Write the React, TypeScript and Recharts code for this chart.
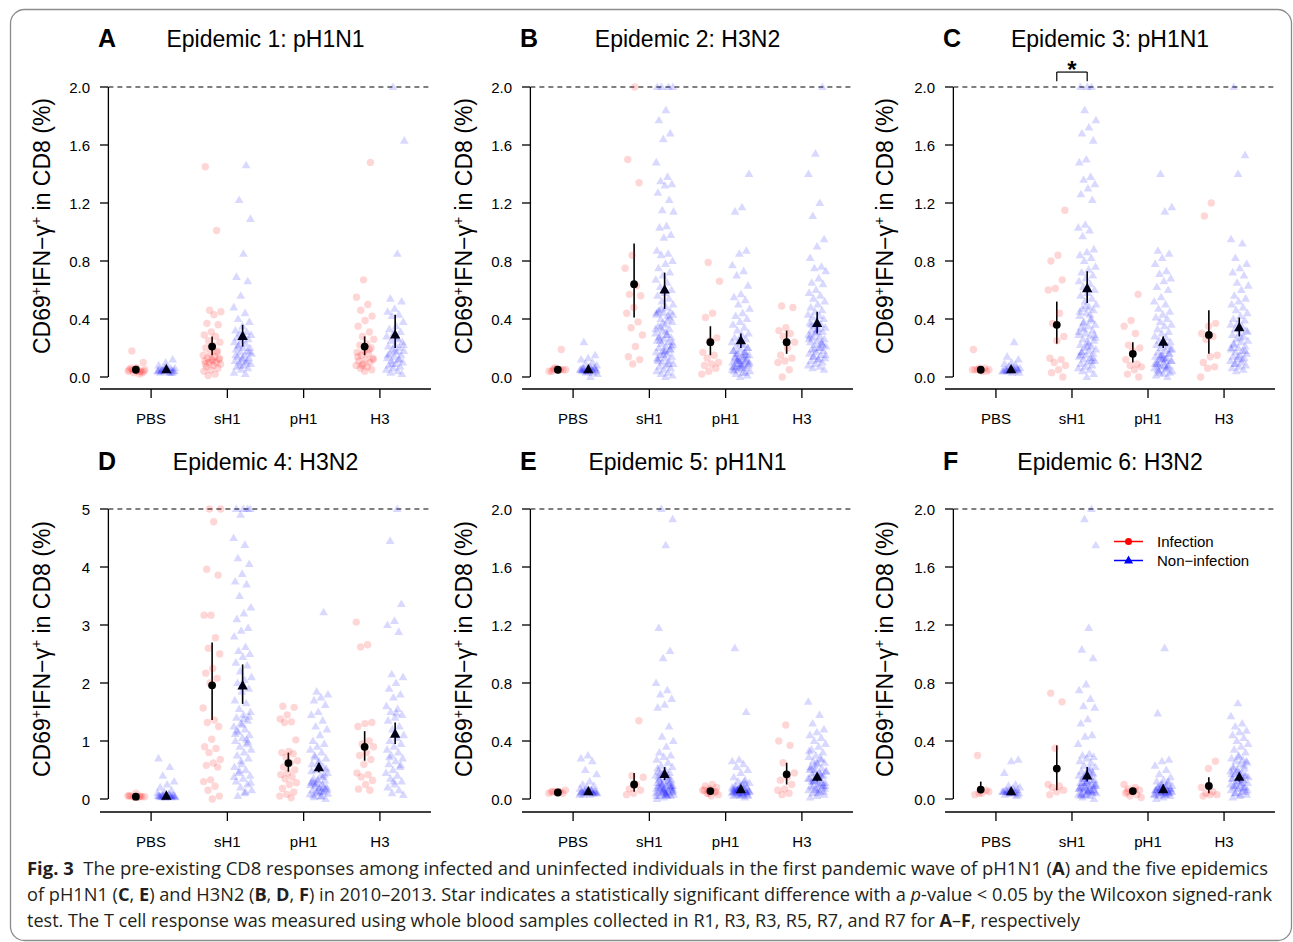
import React from "react";
import {
  ScatterChart,
  Scatter,
  XAxis,
  YAxis,
  ReferenceLine,
  ReferenceDot,
  ErrorBar,
  Legend,
} from "recharts";

const FONT = '"Liberation Sans", Arial, Helvetica, sans-serif';

const categories = ["PBS", "sH1", "pH1", "H3"];
const ticks2 = [0, 0.4, 0.8, 1.2, 1.6, 2.0];
const ticks2Labels = ["0.0", "0.4", "0.8", "1.2", "1.6", "2.0"];
const ticks5 = [0, 1, 2, 3, 4, 5];
const ticks5Labels = ["0", "1", "2", "3", "4", "5"];

// values per stimulus: PBS, sH1, pH1, H3
const epi1Inf: number[][] = [
  [0.18, 0.1, 0.06, 0.05, 0.04, 0.03, 0.05, 0.04, 0.06, 0.03, 0.05, 0.04, 0.02, 0.05, 0.04, 0.06],
  [1.45, 1.01, 0.46, 0.45, 0.43, 0.37, 0.36, 0.31, 0.29, 0.28, 0.25, 0.24, 0.22, 0.2, 0.18, 0.16, 0.15, 0.14, 0.13, 0.12, 0.12, 0.11, 0.1, 0.1, 0.09, 0.08, 0.07, 0.06, 0.05, 0.04, 0.02, 0.01, 0.13, 0.11, 0.09, 0.17],
  [],
  [1.48, 0.67, 0.55, 0.5, 0.46, 0.42, 0.39, 0.35, 0.31, 0.28, 0.26, 0.23, 0.22, 0.2, 0.18, 0.17, 0.16, 0.15, 0.13, 0.12, 0.11, 0.1, 0.09, 0.08, 0.07, 0.06, 0.05, 0.04, 0.14, 0.19, 0.08, 0.12],
];
const epi1Non: number[][] = [
  [0.12, 0.1, 0.08, 0.06, 0.05, 0.04, 0.04, 0.03, 0.05, 0.06, 0.04, 0.03, 0.05, 0.04, 0.07, 0.05, 0.03, 0.04, 0.06, 0.05, 0.04, 0.03, 0.05, 0.04],
  [1.46, 1.22, 1.09, 0.85, 0.69, 0.66, 0.56, 0.48, 0.44, 0.4, 0.38, 0.35, 0.32, 0.31, 0.3, 0.29, 0.28, 0.27, 0.26, 0.25, 0.24, 0.23, 0.22, 0.2, 0.2, 0.19, 0.18, 0.17, 0.16, 0.15, 0.14, 0.13, 0.12, 0.11, 0.1, 0.1, 0.09, 0.08, 0.07, 0.06, 0.05, 0.03, 0.02, 0.21, 0.17, 0.13, 0.15, 0.11, 0.08],
  [],
  [2.0, 1.63, 0.85, 0.54, 0.52, 0.47, 0.45, 0.43, 0.42, 0.38, 0.35, 0.33, 0.31, 0.3, 0.28, 0.26, 0.25, 0.24, 0.22, 0.21, 0.2, 0.19, 0.18, 0.17, 0.16, 0.15, 0.14, 0.13, 0.12, 0.11, 0.1, 0.09, 0.08, 0.07, 0.06, 0.05, 0.04, 0.03, 0.02, 0.18, 0.15, 0.12, 0.09, 0.22, 0.27],
];
// [mean, lower, upper]
const epi1InfCI = [[0.05, 0.045, 0.055], [0.21, 0.15, 0.28], null, [0.21, 0.15, 0.28]];
const epi1NonCI = [[0.05, 0.045, 0.055], [0.28, 0.21, 0.36], null, [0.29, 0.2, 0.43]];

const epi2Inf: number[][] = [
  [0.19, 0.06, 0.05, 0.05, 0.04, 0.05, 0.06, 0.04, 0.05, 0.05],
  [2.0, 1.5, 1.34, 0.84, 0.75, 0.63, 0.57, 0.56, 0.48, 0.44, 0.38, 0.34, 0.29, 0.21, 0.14, 0.12, 0.09],
  [0.79, 0.66, 0.44, 0.41, 0.27, 0.25, 0.17, 0.15, 0.13, 0.1, 0.09, 0.08, 0.06, 0.04, 0.02],
  [0.49, 0.48, 0.34, 0.32, 0.3, 0.28, 0.24, 0.2, 0.15, 0.13, 0.11, 0.1, 0.05, 0.0],
];
const epi2Non: number[][] = [
  [0.24, 0.15, 0.13, 0.12, 0.1, 0.09, 0.08, 0.07, 0.06, 0.06, 0.05, 0.05, 0.05, 0.05, 0.04, 0.04, 0.04, 0.03, 0.03, 0.02, 0.0, 0.05, 0.06, 0.04, 0.05, 0.05, 0.04, 0.05, 0.06, 0.05],
  [2.0, 2.0, 2.0, 2.0, 1.84, 1.77, 1.68, 1.64, 1.48, 1.38, 1.35, 1.33, 1.32, 1.27, 1.22, 1.15, 1.14, 1.04, 1.03, 0.98, 0.96, 0.87, 0.85, 0.84, 0.8, 0.78, 0.75, 0.72, 0.7, 0.67, 0.65, 0.62, 0.6, 0.58, 0.56, 0.54, 0.52, 0.5, 0.48, 0.46, 0.45, 0.44, 0.43, 0.42, 0.4, 0.38, 0.36, 0.35, 0.33, 0.32, 0.3, 0.29, 0.28, 0.27, 0.26, 0.25, 0.24, 0.23, 0.22, 0.21, 0.2, 0.19, 0.18, 0.17, 0.16, 0.15, 0.14, 0.13, 0.12, 0.11, 0.1, 0.09, 0.08, 0.07, 0.06, 0.05, 0.04, 0.03, 0.02, 0.01, 0.0, 0.45, 0.41, 0.37, 0.33, 0.29, 0.25, 0.21, 0.17, 0.13, 0.09, 0.47, 0.43, 0.31, 0.27, 0.19, 0.15, 0.44, 0.39, 0.34, 0.24, 0.18, 0.11],
  [1.4, 1.17, 1.14, 0.87, 0.85, 0.77, 0.73, 0.7, 0.63, 0.57, 0.55, 0.53, 0.5, 0.47, 0.44, 0.42, 0.4, 0.38, 0.36, 0.34, 0.32, 0.3, 0.29, 0.27, 0.26, 0.25, 0.24, 0.22, 0.21, 0.2, 0.19, 0.18, 0.17, 0.16, 0.15, 0.14, 0.13, 0.12, 0.11, 0.1, 0.1, 0.09, 0.08, 0.08, 0.07, 0.06, 0.05, 0.04, 0.03, 0.02, 0.01, 0.0, 0.18, 0.15, 0.12, 0.09, 0.06, 0.14, 0.11, 0.07, 0.05, 0.13, 0.16, 0.2, 0.23, 0.04, 0.03, 0.12, 0.1, 0.08, 0.06, 0.15, 0.09, 0.07, 0.17, 0.11],
  [2.0, 1.54, 1.4, 1.2, 1.11, 0.95, 0.9, 0.82, 0.76, 0.75, 0.73, 0.68, 0.65, 0.64, 0.6, 0.58, 0.56, 0.54, 0.52, 0.5, 0.48, 0.46, 0.45, 0.43, 0.42, 0.41, 0.4, 0.38, 0.37, 0.36, 0.35, 0.34, 0.33, 0.32, 0.31, 0.3, 0.29, 0.28, 0.27, 0.26, 0.25, 0.24, 0.23, 0.22, 0.21, 0.2, 0.19, 0.18, 0.17, 0.16, 0.15, 0.14, 0.13, 0.12, 0.11, 0.1, 0.09, 0.08, 0.07, 0.06, 0.05, 0.33, 0.28, 0.24, 0.19, 0.15, 0.12, 0.36, 0.22, 0.31, 0.26, 0.2, 0.14],
];
const epi2InfCI = [[0.05, 0.045, 0.055], [0.64, 0.41, 0.92], [0.24, 0.15, 0.35], [0.24, 0.16, 0.32]];
const epi2NonCI = [[0.05, 0.045, 0.055], [0.6, 0.47, 0.72], [0.25, 0.2, 0.3], [0.37, 0.3, 0.45]];

const epi3Inf: number[][] = [
  [0.19, 0.06, 0.05, 0.05, 0.04, 0.05, 0.04, 0.06, 0.05],
  [1.15, 0.84, 0.8, 0.67, 0.61, 0.6, 0.44, 0.37, 0.28, 0.25, 0.13, 0.12, 0.1, 0.08, 0.05, 0.03, 0.0],
  [0.57, 0.39, 0.35, 0.3, 0.22, 0.2, 0.18, 0.12, 0.09, 0.08, 0.07, 0.05, 0.02, 0.0],
  [1.2, 1.11, 0.37, 0.35, 0.3, 0.28, 0.26, 0.15, 0.14, 0.1, 0.07, 0.06, 0.0],
];
const epi3Non: number[][] = [
  [0.24, 0.14, 0.12, 0.1, 0.09, 0.08, 0.07, 0.06, 0.06, 0.05, 0.05, 0.05, 0.04, 0.04, 0.04, 0.03, 0.03, 0.05, 0.06, 0.05, 0.04, 0.05, 0.04, 0.05, 0.06],
  [2.0, 2.0, 2.0, 1.84, 1.77, 1.72, 1.68, 1.63, 1.5, 1.48, 1.38, 1.36, 1.33, 1.3, 1.26, 1.22, 1.05, 1.03, 1.01, 0.97, 0.88, 0.86, 0.84, 0.82, 0.8, 0.76, 0.74, 0.72, 0.7, 0.68, 0.66, 0.64, 0.62, 0.6, 0.58, 0.56, 0.54, 0.52, 0.5, 0.48, 0.47, 0.46, 0.44, 0.42, 0.4, 0.38, 0.36, 0.35, 0.34, 0.32, 0.3, 0.29, 0.28, 0.26, 0.25, 0.24, 0.22, 0.21, 0.2, 0.19, 0.18, 0.17, 0.16, 0.15, 0.14, 0.13, 0.12, 0.11, 0.1, 0.09, 0.08, 0.07, 0.06, 0.05, 0.04, 0.02, 0.0, 0.45, 0.39, 0.33, 0.27, 0.23, 0.17, 0.13, 0.49, 0.31, 0.43, 0.37, 0.29, 0.21, 0.15, 0.11],
  [1.4, 1.17, 1.14, 0.87, 0.85, 0.82, 0.78, 0.73, 0.71, 0.68, 0.66, 0.62, 0.6, 0.55, 0.52, 0.5, 0.47, 0.45, 0.43, 0.41, 0.4, 0.38, 0.36, 0.35, 0.33, 0.31, 0.3, 0.28, 0.27, 0.25, 0.24, 0.23, 0.22, 0.21, 0.2, 0.19, 0.18, 0.17, 0.16, 0.15, 0.14, 0.13, 0.12, 0.11, 0.1, 0.09, 0.08, 0.07, 0.06, 0.05, 0.04, 0.03, 0.02, 0.01, 0.0, 0.14, 0.11, 0.08, 0.05, 0.16, 0.12, 0.09, 0.06, 0.03, 0.19, 0.13, 0.1, 0.07, 0.15, 0.04, 0.12, 0.08],
  [2.0, 1.53, 1.4, 0.95, 0.92, 0.82, 0.78, 0.75, 0.72, 0.7, 0.65, 0.63, 0.6, 0.56, 0.54, 0.52, 0.5, 0.48, 0.46, 0.44, 0.42, 0.4, 0.39, 0.37, 0.36, 0.35, 0.33, 0.32, 0.3, 0.29, 0.28, 0.26, 0.25, 0.24, 0.22, 0.21, 0.2, 0.19, 0.18, 0.17, 0.16, 0.15, 0.14, 0.13, 0.12, 0.11, 0.1, 0.09, 0.08, 0.07, 0.06, 0.05, 0.04, 0.31, 0.27, 0.23, 0.18, 0.14, 0.2, 0.12, 0.09],
];
const epi3InfCI = [[0.05, 0.045, 0.055], [0.36, 0.23, 0.52], [0.16, 0.1, 0.24], [0.29, 0.16, 0.46]];
const epi3NonCI = [[0.05, 0.045, 0.055], [0.61, 0.51, 0.73], [0.24, 0.2, 0.28], [0.34, 0.28, 0.41]];

const epi4Inf: number[][] = [
  [0.1, 0.06, 0.05, 0.04, 0.04, 0.03, 0.05, 0.04, 0.03, 0.05, 0.04],
  [5.0, 5.0, 4.78, 3.96, 3.86, 3.17, 3.17, 2.78, 2.6, 2.5, 2.25, 2.17, 2.08, 2.0, 1.57, 1.36, 1.32, 1.25, 1.03, 0.9, 0.87, 0.8, 0.68, 0.62, 0.58, 0.55, 0.33, 0.3, 0.22, 0.15, 0.05, 0.0],
  [1.6, 1.58, 1.45, 1.38, 1.33, 1.32, 1.02, 0.82, 0.8, 0.78, 0.72, 0.66, 0.62, 0.55, 0.5, 0.45, 0.42, 0.38, 0.35, 0.28, 0.25, 0.18, 0.12, 0.08, 0.05, 0.02],
  [3.05, 2.66, 2.62, 1.32, 1.3, 1.25, 1.0, 0.95, 0.9, 0.8, 0.75, 0.68, 0.6, 0.45, 0.42, 0.38, 0.32, 0.25, 0.17, 0.15],
];
const epi4Non: number[][] = [
  [0.7, 0.55, 0.4, 0.3, 0.25, 0.2, 0.15, 0.12, 0.1, 0.08, 0.07, 0.06, 0.05, 0.05, 0.04, 0.04, 0.04, 0.04, 0.03, 0.03, 0.02, 0.05, 0.06, 0.04, 0.05, 0.03, 0.04, 0.05, 0.06, 0.03],
  [5.0, 5.0, 5.0, 5.0, 4.9, 4.5, 4.38, 4.15, 4.05, 3.88, 3.75, 3.7, 3.5, 3.3, 3.2, 3.1, 2.95, 2.9, 2.8, 2.62, 2.55, 2.5, 2.45, 2.35, 2.3, 2.2, 2.1, 2.05, 2.0, 1.9, 1.85, 1.7, 1.65, 1.55, 1.5, 1.45, 1.4, 1.35, 1.3, 1.25, 1.2, 1.15, 1.1, 1.05, 1.0, 0.95, 0.9, 0.85, 0.8, 0.75, 0.7, 0.6, 0.55, 0.5, 0.45, 0.4, 0.35, 0.3, 0.25, 0.2, 0.15, 0.1, 0.05, 1.42, 1.28, 1.12, 1.02, 0.48, 0.28, 1.38, 1.18, 0.98, 0.65, 0.38, 0.12],
  [3.22, 1.85, 1.8, 1.75, 1.7, 1.62, 1.5, 1.45, 1.35, 1.25, 1.2, 1.1, 1.0, 0.95, 0.9, 0.85, 0.8, 0.75, 0.7, 0.65, 0.6, 0.55, 0.5, 0.45, 0.4, 0.35, 0.32, 0.3, 0.28, 0.25, 0.22, 0.2, 0.18, 0.15, 0.12, 0.1, 0.08, 0.05, 0.03, 0.0, 0.62, 0.48, 0.38, 0.26, 0.16, 0.11, 0.06, 0.42, 0.33, 0.24, 0.14, 0.72, 0.52, 0.19, 0.3, 0.21, 0.13, 0.09, 0.04, 0.27, 0.17],
  [5.0, 4.45, 3.36, 3.07, 3.0, 2.88, 2.15, 2.1, 2.0, 1.9, 1.8, 1.75, 1.6, 1.55, 1.5, 1.45, 1.4, 1.35, 1.25, 1.2, 1.1, 1.05, 1.0, 0.95, 0.9, 0.85, 0.8, 0.75, 0.7, 0.65, 0.6, 0.55, 0.5, 0.45, 0.4, 0.35, 0.3, 0.25, 0.2, 0.15, 0.1, 0.07, 1.48, 0.72, 0.58, 0.3],
];
const epi4InfCI = [[0.04, 0.035, 0.045], [1.96, 1.36, 2.7], [0.62, 0.47, 0.8], [0.9, 0.66, 1.17]];
const epi4NonCI = [[0.05, 0.045, 0.055], [1.95, 1.64, 2.32], [0.54, 0.46, 0.62], [1.12, 0.95, 1.32]];

const epi5Inf: number[][] = [
  [0.06, 0.05, 0.05, 0.04, 0.05, 0.04, 0.05, 0.05],
  [0.54, 0.16, 0.15, 0.1, 0.07, 0.06, 0.04, 0.03],
  [0.1, 0.09, 0.08, 0.07, 0.06, 0.05, 0.04, 0.03, 0.02, 0.06, 0.05, 0.04],
  [0.51, 0.4, 0.37, 0.25, 0.18, 0.15, 0.13, 0.1, 0.07, 0.06, 0.04, 0.03],
];
const epi5Non: number[][] = [
  [0.3, 0.28, 0.26, 0.2, 0.17, 0.12, 0.1, 0.09, 0.08, 0.07, 0.06, 0.06, 0.05, 0.05, 0.05, 0.04, 0.04, 0.04, 0.03, 0.03, 0.05, 0.06, 0.04, 0.05, 0.05, 0.04, 0.06, 0.05, 0.04, 0.05, 0.03, 0.06],
  [2.0, 1.93, 1.75, 1.18, 1.02, 0.97, 0.8, 0.75, 0.72, 0.69, 0.65, 0.63, 0.5, 0.43, 0.4, 0.36, 0.32, 0.3, 0.29, 0.27, 0.25, 0.23, 0.22, 0.2, 0.19, 0.18, 0.17, 0.16, 0.15, 0.14, 0.13, 0.12, 0.11, 0.1, 0.1, 0.09, 0.09, 0.08, 0.08, 0.07, 0.07, 0.06, 0.06, 0.05, 0.05, 0.05, 0.04, 0.04, 0.03, 0.03, 0.02, 0.02, 0.01, 0.0, 0.12, 0.08, 0.05, 0.03, 0.15, 0.11, 0.06, 0.04, 0.02, 0.18, 0.09, 0.07, 0.21, 0.14, 0.1, 0.06, 0.03, 0.13, 0.08, 0.05, 0.02, 0.16, 0.11, 0.07, 0.04, 0.09],
  [1.04, 0.6, 0.27, 0.26, 0.24, 0.22, 0.2, 0.18, 0.15, 0.13, 0.12, 0.11, 0.1, 0.09, 0.08, 0.08, 0.07, 0.07, 0.06, 0.06, 0.05, 0.05, 0.05, 0.04, 0.04, 0.04, 0.03, 0.03, 0.02, 0.02, 0.01, 0.06, 0.05, 0.04, 0.07, 0.05, 0.03, 0.08, 0.06, 0.04, 0.02, 0.09, 0.05, 0.1, 0.07, 0.05, 0.03, 0.06, 0.04, 0.08, 0.05, 0.12, 0.06],
  [0.67, 0.58, 0.52, 0.48, 0.46, 0.44, 0.42, 0.4, 0.38, 0.36, 0.34, 0.32, 0.3, 0.29, 0.28, 0.26, 0.25, 0.24, 0.22, 0.21, 0.2, 0.19, 0.18, 0.17, 0.16, 0.15, 0.14, 0.13, 0.12, 0.11, 0.1, 0.09, 0.08, 0.07, 0.06, 0.05, 0.04, 0.03, 0.02, 0.01, 0.27, 0.23, 0.19, 0.15, 0.12, 0.09, 0.06, 0.33, 0.17, 0.13, 0.07, 0.04, 0.21, 0.11, 0.18, 0.14, 0.1, 0.08, 0.05, 0.25, 0.2, 0.16, 0.12, 0.09, 0.06],
];
const epi5InfCI = [[0.045, 0.04, 0.05], [0.1, 0.05, 0.18], [0.055, 0.05, 0.06], [0.17, 0.1, 0.25]];
const epi5NonCI = [[0.05, 0.045, 0.055], [0.17, 0.13, 0.22], [0.065, 0.04, 0.09], [0.15, 0.12, 0.18]];

const epi6Inf: number[][] = [
  [0.3, 0.05, 0.04, 0.03, 0.06, 0.04],
  [0.73, 0.67, 0.35, 0.1, 0.09, 0.08, 0.06, 0.05, 0.03],
  [0.1, 0.08, 0.07, 0.06, 0.05, 0.04, 0.03, 0.02, 0.01, 0.06, 0.05],
  [0.26, 0.21, 0.08, 0.05, 0.04, 0.03, 0.03, 0.02],
];
const epi6Non: number[][] = [
  [0.27, 0.26, 0.18, 0.1, 0.09, 0.08, 0.07, 0.06, 0.06, 0.05, 0.05, 0.05, 0.05, 0.04, 0.04, 0.03, 0.02, 0.06, 0.05, 0.04, 0.05, 0.03, 0.04, 0.05, 0.06, 0.04],
  [2.0, 1.93, 1.75, 1.18, 1.03, 0.97, 0.79, 0.75, 0.69, 0.64, 0.63, 0.55, 0.52, 0.44, 0.43, 0.38, 0.31, 0.3, 0.29, 0.28, 0.26, 0.25, 0.23, 0.22, 0.2, 0.19, 0.18, 0.17, 0.16, 0.15, 0.14, 0.13, 0.12, 0.11, 0.1, 0.1, 0.09, 0.09, 0.08, 0.08, 0.07, 0.07, 0.06, 0.06, 0.05, 0.05, 0.04, 0.04, 0.03, 0.03, 0.02, 0.01, 0.0, 0.12, 0.08, 0.05, 0.14, 0.1, 0.06, 0.03, 0.17, 0.11, 0.07, 0.21, 0.15, 0.09, 0.05, 0.02, 0.13, 0.08, 0.04, 0.19, 0.11, 0.06, 0.03],
  [1.04, 0.59, 0.27, 0.26, 0.23, 0.2, 0.17, 0.15, 0.13, 0.12, 0.11, 0.1, 0.09, 0.08, 0.08, 0.07, 0.07, 0.06, 0.06, 0.05, 0.05, 0.05, 0.04, 0.04, 0.04, 0.03, 0.03, 0.02, 0.02, 0.01, 0.0, 0.06, 0.07, 0.05, 0.03, 0.08, 0.04, 0.1, 0.06, 0.09, 0.05, 0.07, 0.04, 0.06, 0.12, 0.08, 0.03, 0.05],
  [0.66, 0.57, 0.52, 0.5, 0.47, 0.46, 0.44, 0.42, 0.4, 0.38, 0.36, 0.34, 0.32, 0.3, 0.28, 0.27, 0.26, 0.25, 0.24, 0.22, 0.21, 0.2, 0.19, 0.18, 0.17, 0.16, 0.15, 0.14, 0.13, 0.12, 0.11, 0.1, 0.09, 0.08, 0.07, 0.06, 0.05, 0.04, 0.03, 0.02, 0.01, 0.23, 0.19, 0.15, 0.11, 0.08, 0.05, 0.29, 0.17, 0.13, 0.09, 0.06, 0.03, 0.21, 0.16, 0.12, 0.1, 0.07, 0.04, 0.26, 0.18, 0.14, 0.08],
];
const epi6InfCI = [[0.065, 0.04, 0.12], [0.21, 0.06, 0.37], [0.055, 0.05, 0.06], [0.09, 0.04, 0.15]];
const epi6NonCI = [[0.05, 0.045, 0.055], [0.16, 0.12, 0.22], [0.065, 0.04, 0.1], [0.15, 0.12, 0.18]];

const legendItems = [
  { label: "Infection", color: "#ff0000", shape: "circle" },
  { label: "Non\u2212infection", color: "#0000ff", shape: "triangle" },
];

const captionLines = [
  [
    { t: "Fig. 3", b: true },
    { t: "  The pre-existing CD8 responses among infected and uninfected individuals in the first pandemic wave of pH1N1 (" },
    { t: "A", b: true },
    { t: ") and the five epidemics" },
  ],
  [
    { t: "of pH1N1 (" },
    { t: "C", b: true },
    { t: ", " },
    { t: "E", b: true },
    { t: ") and H3N2 (" },
    { t: "B", b: true },
    { t: ", " },
    { t: "D", b: true },
    { t: ", " },
    { t: "F", b: true },
    { t: ") in 2010\u20132013. Star indicates a statistically significant difference with a " },
    { t: "p", i: true },
    { t: "-value < 0.05 by the Wilcoxon signed-rank" },
  ],
  [
    { t: "test. The T cell response was measured using whole blood samples collected in R1, R3, R3, R5, R7, and R7 for " },
    { t: "A", b: true },
    { t: "\u2013" },
    { t: "F", b: true },
    { t: ", respectively" },
  ],
];

const X_MIN = 0.33;
const X_MAX = 4.67;
const Y_AXIS_X = 0.44;

const COLS = [
  { plotLeft: 100, plotW: 331, letterX: 98, labelX: 50 },
  { plotLeft: 522, plotW: 331, letterX: 520, labelX: 472 },
  { plotLeft: 945, plotW: 330, letterX: 943, labelX: 893 },
];
const ROWS = [
  { plotTop: 87, plotH: 302, pad: 12, titleBase: 47, labelCY: 226 },
  { plotTop: 509, plotH: 303, pad: 13, titleBase: 470, labelCY: 649 },
];

const panels = [
  { letter: "A", title: "Epidemic 1: pH1N1", col: 0, row: 0, max5: false, inf: epi1Inf, non: epi1Non, infCI: epi1InfCI, nonCI: epi1NonCI, star: false, legend: false },
  { letter: "B", title: "Epidemic 2: H3N2", col: 1, row: 0, max5: false, inf: epi2Inf, non: epi2Non, infCI: epi2InfCI, nonCI: epi2NonCI, star: false, legend: false },
  { letter: "C", title: "Epidemic 3: pH1N1", col: 2, row: 0, max5: false, inf: epi3Inf, non: epi3Non, infCI: epi3InfCI, nonCI: epi3NonCI, star: true, legend: false },
  { letter: "D", title: "Epidemic 4: H3N2", col: 0, row: 1, max5: true, inf: epi4Inf, non: epi4Non, infCI: epi4InfCI, nonCI: epi4NonCI, star: false, legend: false },
  { letter: "E", title: "Epidemic 5: pH1N1", col: 1, row: 1, max5: false, inf: epi5Inf, non: epi5Non, infCI: epi5InfCI, nonCI: epi5NonCI, star: false, legend: false },
  { letter: "F", title: "Epidemic 6: H3N2", col: 2, row: 1, max5: false, inf: epi6Inf, non: epi6Non, infCI: epi6InfCI, nonCI: epi6NonCI, star: false, legend: true },
];

// horizontal spread of the strip points, like R's jitter()
function jitterOffset(i: number, seed: number) {
  const f = (i * 0.6180339887 + seed * 0.2817) % 1;
  return (f - 0.5) * 0.24;
}

function toPoints(groups: number[][], shift: number, seed: number) {
  return groups.flatMap((vals, c) =>
    vals.map((v, i) => ({ x: c + 1 + shift + jitterOffset(i, seed + c * 3), y: v }))
  );
}

function toMeans(summary: (number[] | null)[], shift: number) {
  return summary.flatMap((s, c) =>
    s ? [{ x: c + 1 + shift, y: s[0], err: [s[0] - s[1], s[2] - s[0]] }] : []
  );
}

const RedDot = (p: any) => (
  <circle cx={p.cx} cy={p.cy} r={3.7} fill="#ff0000" fillOpacity={0.16} />
);
const BlueTri = (p: any) => (
  <path
    d={`M${p.cx},${p.cy - 4.6} L${p.cx + 4.4},${p.cy + 3} L${p.cx - 4.4},${p.cy + 3} Z`}
    fill="#0000ff"
    fillOpacity={0.15}
  />
);
const MeanDot = (p: any) => <circle cx={p.cx} cy={p.cy} r={3.9} fill="#000" />;
const MeanTri = (p: any) => (
  <path
    d={`M${p.cx},${p.cy - 5.8} L${p.cx + 5.2},${p.cy + 3.6} L${p.cx - 5.2},${p.cy + 3.6} Z`}
    fill="#000018"
  />
);

function XTick(props: any) {
  const { x, y, payload } = props;
  return (
    <g>
      <line x1={x} x2={x} y1={y} y2={y + 9} stroke="#000" strokeWidth={1.3} />
      <text x={x} y={y + 29} textAnchor="middle" dominantBaseline="central" fontSize={15} fontFamily={FONT} fill="#000">
        {categories[payload.value - 1]}
      </text>
    </g>
  );
}

function makeYTick(ticks: number[], labels: string[]) {
  return (props: any) => {
    const { x, y, payload } = props;
    const idx = ticks.indexOf(payload.value);
    return (
      <g>
        <line x1={x} x2={x + 8} y1={y} y2={y} stroke="#000" strokeWidth={1.3} />
        <text x={x - 10} y={y} textAnchor="end" dominantBaseline="central" fontSize={15} fontFamily={FONT} fill="#000">
          {labels[idx]}
        </text>
      </g>
    );
  };
}

function LegendBox() {
  return (
    <div style={{ fontFamily: FONT, fontSize: 15, color: "#000" }}>
      {legendItems.map((it) => (
        <div key={it.label} style={{ display: "flex", alignItems: "center", height: 19 }}>
          <svg width={47} height={19} style={{ display: "block" }}>
            <line x1={4} x2={33} y1={9.5} y2={9.5} stroke={it.color} strokeWidth={1.5} />
            {it.shape === "circle" ? (
              <circle cx={18.5} cy={9.5} r={3.5} fill={it.color} />
            ) : (
              <path d="M18.5,4.5 L23,12.5 L14,12.5 Z" fill={it.color} />
            )}
          </svg>
          <span>{it.label}</span>
        </div>
      ))}
    </div>
  );
}

function Panel({ cfg, index }: { cfg: (typeof panels)[number]; index: number }) {
  const col = COLS[cfg.col];
  const row = ROWS[cfg.row];
  const yMax = cfg.max5 ? 5 : 2;
  const ticks = cfg.max5 ? ticks5 : ticks2;
  const labels = cfg.max5 ? ticks5Labels : ticks2Labels;
  const infPts = toPoints(cfg.inf, -0.2, index * 5 + 1);
  const nonPts = toPoints(cfg.non, 0.2, index * 5 + 3);
  const infMeans = toMeans(cfg.infCI, -0.2);
  const nonMeans = toMeans(cfg.nonCI, 0.2);
  const width = 70 + col.plotW + 12;
  const height = 30 + row.plotH + 50;

  return (
    <div style={{ position: "absolute", left: col.plotLeft - 70, top: row.plotTop - 30 }}>
      <ScatterChart width={width} height={height} margin={{ top: 30, right: 12, left: 10, bottom: 10 }}>
        <XAxis
          type="number"
          dataKey="x"
          domain={[X_MIN, X_MAX]}
          ticks={[1, 2, 3, 4]}
          interval={0}
          height={40}
          tickSize={0}
          tickMargin={0}
          tickLine={false}
          axisLine={{ stroke: "#000", strokeWidth: 1.3 }}
          tick={<XTick />}
          allowDataOverflow
        />
        <YAxis
          type="number"
          dataKey="y"
          domain={[0, yMax]}
          ticks={ticks}
          interval={0}
          width={60}
          padding={{ top: 0, bottom: row.pad }}
          axisLine={false}
          tickLine={false}
          tickSize={0}
          tickMargin={0}
          tick={makeYTick(ticks, labels)}
        />
        <ReferenceLine
          segment={[{ x: Y_AXIS_X, y: 0 }, { x: Y_AXIS_X, y: yMax }]}
          stroke="#000"
          strokeWidth={1.3}
        />
        <ReferenceLine
          segment={[{ x: Y_AXIS_X, y: yMax }, { x: X_MAX, y: yMax }]}
          stroke="#000"
          strokeWidth={1.1}
          strokeDasharray="5 4"
        />
        <Scatter data={infPts} shape={RedDot} isAnimationActive={false} />
        <Scatter data={nonPts} shape={BlueTri} isAnimationActive={false} />
        <Scatter data={infMeans} shape={MeanDot} isAnimationActive={false}>
          <ErrorBar dataKey="err" direction="y" width={0} stroke="#000" strokeWidth={1.6} />
        </Scatter>
        <Scatter data={nonMeans} shape={MeanTri} isAnimationActive={false}>
          <ErrorBar dataKey="err" direction="y" width={0} stroke="#000" strokeWidth={1.6} />
        </Scatter>
        {cfg.star && (
          <ReferenceLine
            segment={[{ x: 1.8, y: 2.04 }, { x: 1.8, y: 2.103 }]}
            stroke="#000"
            strokeWidth={1.2}
            ifOverflow="visible"
          />
        )}
        {cfg.star && (
          <ReferenceLine
            segment={[{ x: 1.8, y: 2.103 }, { x: 2.2, y: 2.103 }]}
            stroke="#000"
            strokeWidth={1.2}
            ifOverflow="visible"
          />
        )}
        {cfg.star && (
          <ReferenceLine
            segment={[{ x: 2.2, y: 2.103 }, { x: 2.2, y: 2.04 }]}
            stroke="#000"
            strokeWidth={1.2}
            ifOverflow="visible"
          />
        )}
        {cfg.star && (
          <ReferenceDot
            x={2.0}
            y={2.12}
            r={0}
            ifOverflow="visible"
            label={{ value: "*", position: "center", fontSize: 24, fontWeight: "bold", fill: "#000", fontFamily: FONT }}
          />
        )}
        {cfg.legend && (
          <Legend
            layout="horizontal"
            verticalAlign="middle"
            align="center"
            content={<LegendBox />}
            wrapperStyle={{ position: "absolute", left: 235, top: 53, width: 200, height: 40 }}
          />
        )}
      </ScatterChart>
    </div>
  );
}

export default function App() {
  return (
    <div style={{ position: "absolute", left: 0, top: 0, width: 1293, height: 942, background: "#fff", fontFamily: FONT }}>
      <svg width={1293} height={942} style={{ position: "absolute", left: 0, top: 0 }}>
        <rect x={10.5} y={9.5} width={1281} height={931} rx={14} fill="none" stroke="#8c8c8c" strokeWidth={1.3} />
        {panels.map((p) => {
          const col = COLS[p.col];
          const row = ROWS[p.row];
          return (
            <g key={p.letter} fontFamily={FONT} fill="#000">
              <text x={col.letterX} y={row.titleBase} fontSize={25} fontWeight="bold">
                {p.letter}
              </text>
              <text x={col.plotLeft + col.plotW / 2} y={row.titleBase} fontSize={23} textAnchor="middle">
                {p.title}
              </text>
              <text transform={`translate(${col.labelX},${row.labelCY}) rotate(-90)`} fontSize={23} textAnchor="middle">
                CD69
                <tspan dy={-9} fontSize={14}>+</tspan>
                <tspan dy={9}>{"IFN\u2212\u03b3"}</tspan>
                <tspan dy={-9} fontSize={14}>+</tspan>
                <tspan dy={9}>{" in CD8 (%)"}</tspan>
              </text>
            </g>
          );
        })}
        {captionLines.map((line, li) => (
          <text
            key={li}
            x={27}
            y={875 + li * 26}
            fontSize={17.5}
            fontFamily='"Open Sans", "Noto Sans", sans-serif'
            fill="#231f20"
            textLength={[1241, 1245, 1053][li]}
            lengthAdjust="spacingAndGlyphs"
            xmlSpace="preserve"
          >
            {line.map((s, si) => (
              <tspan key={si} fontWeight={s.b ? "bold" : "normal"} fontStyle={s.i ? "italic" : "normal"}>
                {s.t}
              </tspan>
            ))}
          </text>
        ))}
      </svg>
      {panels.map((p, i) => (
        <Panel key={p.letter} cfg={p} index={i} />
      ))}
    </div>
  );
}
